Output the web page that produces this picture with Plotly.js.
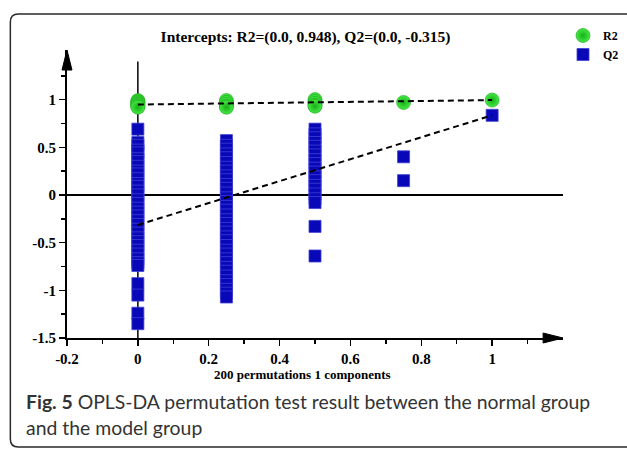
<!DOCTYPE html>
<html>
<head>
<meta charset="utf-8">
<script src="https://cdn.plot.ly/plotly-3.0.1.min.js"></script>
<style>
  html, body { margin: 0; padding: 0; background: #ffffff; }
  #chart { width: 627px; height: 449px; }
</style>
</head>
<body>
<div id="chart"></div>
<script>
// Correlation of permuted Y with the original Y (x position of each column)
const permCorr = [0, 0.25, 0.5, 0.75, 1];

// R2 values of the permuted models, one list per correlation column
const r2Values = [
  [0.99, 0.98, 0.97, 0.96, 0.95, 0.94, 0.93, 0.92],
  [0.99, 0.97, 0.95, 0.93, 0.92],
  [1.00, 0.98, 0.96, 0.94, 0.93],
  [0.97],
  [0.995]
];

// Q2 values of the permuted models, one list per correlation column
const q2Values = [
  [0.69, 0.55, 0.52, 0.47, 0.44, 0.38, 0.35, 0.30, 0.25, 0.22, 0.17, 0.12, 0.09, 0.04, 0.00,
   -0.05, -0.09, -0.14, -0.18, -0.22, -0.27, -0.31, -0.36, -0.40, -0.45, -0.49, -0.53, -0.58,
   -0.62, -0.67, -0.71, -0.74, -0.93, -1.05, -1.24, -1.35],
  [0.57, 0.52, 0.48, 0.43, 0.39, 0.34, 0.29, 0.25, 0.20, 0.16, 0.11, 0.07, 0.02, -0.03, -0.07,
   -0.12, -0.16, -0.21, -0.26, -0.30, -0.35, -0.39, -0.44, -0.48, -0.53, -0.58, -0.62, -0.67,
   -0.71, -0.76, -0.80, -0.85, -0.90, -0.94, -0.99, -1.03, -1.07],
  [0.69, 0.64, 0.60, 0.55, 0.51, 0.46, 0.42, 0.37, 0.33, 0.28, 0.24, 0.19, 0.15, 0.10, 0.06,
   0.01, -0.04, -0.08, -0.33, -0.64],
  [0.40, 0.15],
  [0.835]
];

// Regression intercepts (at correlation 0)
const r2Intercept = 0.948;
const q2Intercept = -0.315;

// Axis ticks
const xTickVals = [-0.2, 0, 0.2, 0.4, 0.6, 0.8, 1];
const xTickText = ['-0.2', '0', '0.2', '0.4', '0.6', '0.8', '1'];
const xMinorVals = [-0.1, 0.1, 0.3, 0.5, 0.7, 0.9, 1.1];
const yTickVals = [-1.5, -1, -0.5, 0, 0.5, 1];
const yTickText = ['-1.5', '-1', '-0.5', '0', '0.5', '1'];
const yMinorVals = [-1.25, -0.75, -0.25, 0.25, 0.75, 1.25];

const xLabel = '200 permutations 1 components';
const captionLine1 = '<b>Fig. 5</b> OPLS-DA permutation test result between the normal group';
const captionLine2 = 'and the model group';

// Flatten the per-column lists into x/y arrays
function flatten(groups) {
  const xs = [], ys = [];
  groups.forEach((vals, i) => vals.forEach(v => { xs.push(permCorr[i]); ys.push(v); }));
  return { xs, ys };
}
const r2 = flatten(r2Values);
const q2 = flatten(q2Values);

// Original model (correlation 1) values end the regression lines
const r2Orig = r2Values[r2Values.length - 1][0];
const q2Orig = q2Values[q2Values.length - 1][0];

const serif = 'Liberation Serif, Times New Roman, serif';

const traces = [
  {
    type: 'scatter', mode: 'markers', name: 'R2',
    x: r2.xs, y: r2.ys,
    marker: { symbol: 'circle', size: 14, color: '#45e845',
              gradient: { type: 'radial', color: '#16b016' },
              line: { color: '#1aa81a', width: 0.6 } }
  },
  {
    type: 'scatter', mode: 'markers', name: 'Q2',
    x: q2.xs, y: q2.ys,
    marker: { symbol: 'square', size: 12, color: '#0808b8',
              line: { color: '#4040d4', width: 0.8 } }
  },
  {
    type: 'scatter', mode: 'lines', showlegend: false, hoverinfo: 'skip',
    x: [permCorr[0], permCorr[permCorr.length - 1]], y: [r2Intercept, r2Orig],
    line: { color: '#000000', width: 2, dash: '6px,4px' }
  },
  {
    type: 'scatter', mode: 'lines', showlegend: false, hoverinfo: 'skip',
    x: [permCorr[0], permCorr[permCorr.length - 1]], y: [q2Intercept, q2Orig],
    line: { color: '#000000', width: 2, dash: '6px,4px' }
  }
];

// Page geometry helpers (pixels -> paper fractions)
const W = 627, H = 449;
const M = { l: 67, r: 61, t: 50, b: 111 };
const PW = W - M.l - M.r, PH = H - M.t - M.b;
const X = px => (px - M.l) / PW;
const Y = py => (H - M.b - py) / PH;

const framePath =
  `M${X(640)},${Y(14)} L${X(18)},${Y(14)} Q${X(10)},${Y(14)} ${X(10)},${Y(22)} ` +
  `L${X(10)},${Y(439)} Q${X(10)},${Y(447)} ${X(18)},${Y(447)} L${X(640)},${Y(447)}`;

const layout = {
  width: W, height: H,
  margin: M,
  paper_bgcolor: '#ffffff', plot_bgcolor: '#ffffff',
  font: { family: serif, color: '#000000' },
  title: {
    text: `Intercepts: R2=(0.0, ${r2Intercept}), Q2=(0.0, ${q2Intercept})`,
    font: { family: serif, size: 15.5, weight: 'bold', color: '#000000' },
    xref: 'paper', x: X(307), xanchor: 'center',
    yref: 'container', y: 1 - 37 / H, yanchor: 'middle'
  },
  showlegend: true,
  legend: {
    xref: 'container', yref: 'container',
    x: 563 / W, y: 1 - 21 / H, xanchor: 'left', yanchor: 'top',
    font: { family: serif, size: 12, weight: 'bold', color: '#000000' },
    bgcolor: 'rgba(0,0,0,0)', borderwidth: 0, tracegroupgap: 0, itemwidth: 30
  },
  xaxis: {
    range: [-0.2, 1.2], showgrid: false, zeroline: false,
    showline: true, linecolor: '#000000', linewidth: 2,
    ticks: 'outside', ticklen: 6, tickwidth: 1.5, tickcolor: '#000000',
    tickmode: 'array', tickvals: xTickVals, ticktext: xTickText,
    tickfont: { family: serif, size: 15, weight: 'bold', color: '#000000' },
    minor: { tickmode: 'array', tickvals: xMinorVals, ticks: 'outside', ticklen: 4,
             tickwidth: 1.5, tickcolor: '#000000', showgrid: false },
    fixedrange: true
  },
  yaxis: {
    range: [-1.5, 1.52], showgrid: false,
    zeroline: true, zerolinecolor: '#000000', zerolinewidth: 1.5,
    showline: true, linecolor: '#000000', linewidth: 2,
    ticks: 'outside', ticklen: 6, tickwidth: 1.5, tickcolor: '#000000',
    tickmode: 'array', tickvals: yTickVals, ticktext: yTickText,
    tickfont: { family: serif, size: 15, weight: 'bold', color: '#000000' },
    minor: { tickmode: 'array', tickvals: yMinorVals, ticks: 'outside', ticklen: 4,
             tickwidth: 1.5, tickcolor: '#000000', showgrid: false },
    fixedrange: true
  },
  shapes: [
    // vertical reference line at correlation 0
    { type: 'line', xref: 'x', yref: 'y', x0: 0, x1: 0, y0: -1.5, y1: 1.4,
      line: { color: '#000000', width: 1.5 }, layer: 'below' },
    // arrow heads on the axes
    { type: 'path', xref: 'paper', yref: 'paper',
      path: `M0,1 L${-5 / PW},${1 - 20 / PH} L${5 / PW},${1 - 20 / PH} Z`,
      fillcolor: '#000000', line: { color: '#000000', width: 1 } },
    { type: 'path', xref: 'paper', yref: 'paper',
      path: `M1,0 L${1 - 20 / PW},${5 / PH} L${1 - 20 / PW},${-5 / PH} Z`,
      fillcolor: '#000000', line: { color: '#000000', width: 1 } },
    // figure frame
    { type: 'path', xref: 'paper', yref: 'paper', path: framePath,
      line: { color: '#2a2a2a', width: 1.5 } }
  ],
  annotations: [
    { text: `<b>${xLabel}</b>`, xref: 'paper', yref: 'paper', x: X(304), y: Y(374),
      xanchor: 'center', yanchor: 'middle', showarrow: false,
      font: { family: serif, size: 13, color: '#000000' } },
    { text: captionLine1, xref: 'paper', yref: 'paper', x: X(24), y: Y(401),
      xanchor: 'left', yanchor: 'middle', showarrow: false,
      font: { family: 'Lato, Open Sans, sans-serif', size: 19.4, color: '#333333' } },
    { text: captionLine2, xref: 'paper', yref: 'paper', x: X(24), y: Y(427),
      xanchor: 'left', yanchor: 'middle', showarrow: false,
      font: { family: 'Lato, Open Sans, sans-serif', size: 19.4, color: '#333333' } }
  ]
};

Plotly.newPlot('chart', traces, layout, { displayModeBar: false, staticPlot: true });
</script>
</body>
</html>
